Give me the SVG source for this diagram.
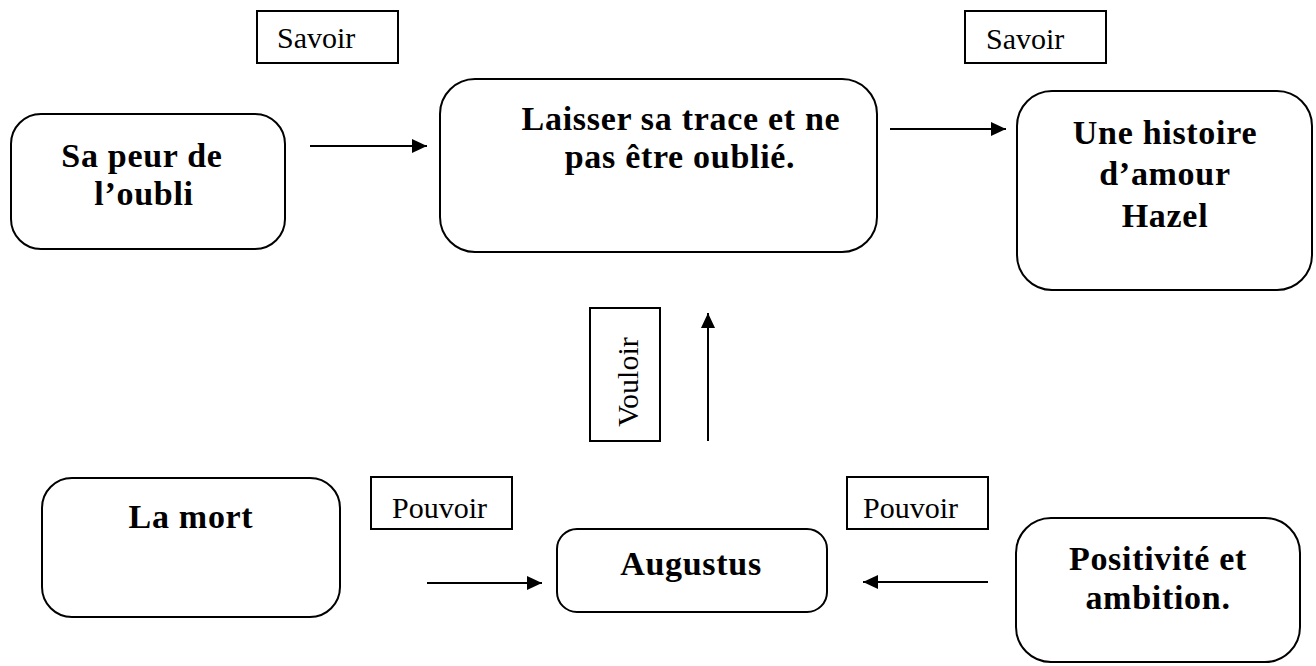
<svg xmlns="http://www.w3.org/2000/svg" width="1316" height="666" viewBox="0 0 1316 666">
<style>
.node{fill:#fff;stroke:#000;stroke-width:2}
.lbl{fill:#fff;stroke:#000;stroke-width:2}
.t{font-family:"Liberation Serif","Times New Roman",serif;font-weight:bold;font-size:34px;letter-spacing:0.7px;fill:#000;text-anchor:middle}
.l{font-family:"Liberation Serif","Times New Roman",serif;font-size:30px;fill:#000}
.c{stroke:#000;stroke-width:2;fill:none}
</style>
<defs>
<marker id="ah" markerUnits="userSpaceOnUse" markerWidth="16" markerHeight="16" refX="15" refY="7" orient="auto">
<path d="M0,0 L15,7 L0,14 Z" fill="#000"/>
</marker>
</defs>
<rect width="1316" height="666" fill="#fff"/>
<g id="savoir1"><rect class="lbl" x="257" y="11" width="141" height="52"/><text class="l" x="277" y="48">Savoir</text></g>
<g id="savoir2"><rect class="lbl" x="965" y="11" width="141" height="52"/><text class="l" x="986" y="49">Savoir</text></g>
<g id="vouloir"><rect class="lbl" x="590" y="308" width="70" height="133"/><text class="l" transform="translate(638,382) rotate(-90)" text-anchor="middle">Vouloir</text></g>
<g id="pouvoir1"><rect class="lbl" x="371" y="477" width="141" height="52"/><text class="l" x="392" y="518">Pouvoir</text></g>
<g id="pouvoir2"><rect class="lbl" x="847" y="477" width="141" height="52"/><text class="l" x="863" y="518">Pouvoir</text></g>
<g id="peur"><rect class="node" x="11" y="114" width="274" height="135" rx="30"/><text class="t" x="142" y="167">Sa peur de</text><text class="t" x="144" y="205">l’oubli</text></g>
<g id="trace"><rect class="node" x="440" y="79" width="437" height="173" rx="35"/><text class="t" x="681" y="130">Laisser sa trace et ne</text><text class="t" x="680" y="168">pas être oublié.</text></g>
<g id="histoire"><rect class="node" x="1017" y="91" width="295" height="199" rx="35"/><text class="t" x="1165" y="144">Une histoire</text><text class="t" x="1165" y="185">d’amour</text><text class="t" x="1165" y="227">Hazel</text></g>
<g id="mort"><rect class="node" x="42" y="478" width="298" height="139" rx="30"/><text class="t" x="191" y="528">La mort</text></g>
<g id="augustus"><rect class="node" x="557" y="529" width="270" height="83" rx="20"/><text class="t" x="691" y="575">Augustus</text></g>
<g id="positivite"><rect class="node" x="1016" y="518" width="284" height="144" rx="35"/><text class="t" x="1158" y="570">Positivité et</text><text class="t" x="1158" y="609">ambition.</text></g>
<g id="connectors">
<line class="c" x1="310" y1="146" x2="427" y2="146" marker-end="url(#ah)"/>
<line class="c" x1="890" y1="129" x2="1006" y2="129" marker-end="url(#ah)"/>
<line class="c" x1="708" y1="441" x2="708" y2="313" marker-end="url(#ah)"/>
<line class="c" x1="427" y1="583" x2="542" y2="583" marker-end="url(#ah)"/>
<line class="c" x1="988" y1="582" x2="863" y2="582" marker-end="url(#ah)"/>
</g>
</svg>
